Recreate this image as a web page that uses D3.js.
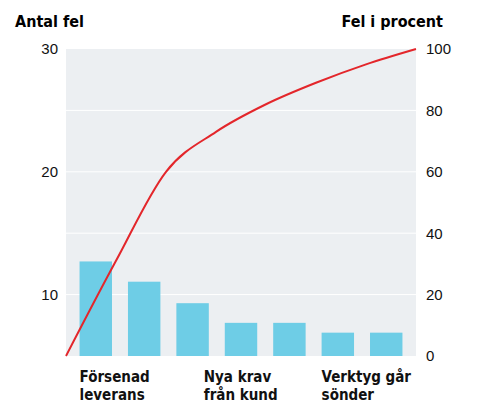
<!DOCTYPE html>
<html><head><meta charset="utf-8">
<script src="https://cdn.jsdelivr.net/npm/d3@7"></script>
<style>body{margin:0;background:#fff}text{font-family:"Liberation Sans Narrow","DejaVu Sans Condensed",sans-serif}</style>
</head><body><svg id="c" width="481" height="412"></svg>
<script>
// data
const categories = ["c1", "c2", "c3", "c4", "c5", "c6", "c7"];
const counts = [12.7, 11.05, 9.3, 7.7, 7.7, 6.9, 6.9];
const cumulative = [0, 31, 60, 73, 82, 89, 95, 100];
const leftTicks = [10, 20, 30];
const rightTicks = [0, 20, 40, 60, 80, 100];
const labels = [
  { cat: 0, shift: 0, lines: ["Försenad", "leverans"] },
  { cat: 3, shift: -21, lines: ["Nya krav", "från kund"] },
  { cat: 5, shift: 0, lines: ["Verktyg går", "sönder"] }
];

const svg = d3.select("#c");
const m = { l: 66, r: 416, t: 49, b: 356 };

const x = d3.scaleBand().domain(categories).range([m.l, m.r]).paddingInner(0.33).paddingOuter(0.28);
const xLin = d3.scaleLinear().domain([0, categories.length]).range([m.l, m.r]);
const yL = d3.scaleLinear().domain([5, 30]).range([m.b, m.t]);
const yR = d3.scaleLinear().domain([0, 100]).range([m.b, m.t]);

svg.append("rect").attr("x", m.l).attr("y", m.t).attr("width", m.r - m.l).attr("height", m.b - m.t).attr("fill", "#eceff2");

// gridlines follow the right axis ticks
svg.selectAll(".grid").data(rightTicks.slice(1, -1)).join("line")
  .attr("x1", m.l).attr("x2", m.r).attr("y1", d => yR(d)).attr("y2", d => yR(d))
  .attr("stroke", "#fff").attr("stroke-width", 1);

svg.selectAll(".bar").data(counts).join("rect")
  .attr("x", (d, i) => x(categories[i])).attr("width", x.bandwidth())
  .attr("y", d => yL(d)).attr("height", d => m.b - yL(d)).attr("fill", "#6ecde6");

const line = d3.line().x((d, i) => xLin(i)).y(d => yR(d)).curve(d3.curveMonotoneX);
svg.append("path").attr("d", line(cumulative)).attr("fill", "none").attr("stroke", "#e3262b").attr("stroke-width", 2);

const axL = d3.axisLeft(yL).tickValues(leftTicks).tickSize(0).tickPadding(8);
svg.append("g").attr("transform", `translate(${m.l},0)`).call(axL)
  .call(g => g.select(".domain").remove())
  .selectAll("text").attr("font-size", 15).attr("fill", "#111").style("font-family", "inherit");
const axR = d3.axisRight(yR).tickValues(rightTicks).tickSize(0).tickPadding(10);
svg.append("g").attr("transform", `translate(${m.r},0)`).call(axR)
  .call(g => g.select(".domain").remove())
  .selectAll("text").attr("font-size", 15).attr("fill", "#111").style("font-family", "inherit");

svg.append("text").attr("x", 15).attr("y", 27).attr("font-size", 16).attr("font-weight", "bold").text("Antal fel");
svg.append("text").attr("x", 443).attr("y", 27).attr("text-anchor", "end").attr("font-size", 16).attr("font-weight", "bold").text("Fel i procent");

labels.forEach(l => {
  const t = svg.append("text").attr("font-size", 15).attr("font-weight", "bold").attr("fill", "#111");
  l.lines.forEach((s, k) => t.append("tspan").attr("x", x(categories[l.cat]) + l.shift).attr("y", 382 + k * 18).text(s));
});
</script></body></html>
